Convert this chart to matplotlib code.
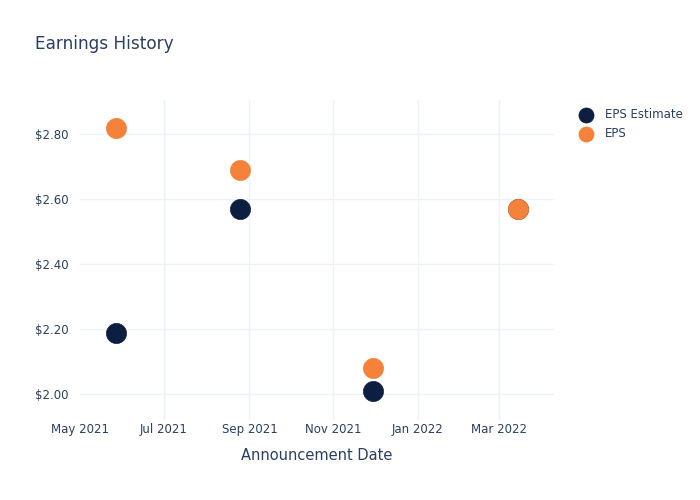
import matplotlib.pyplot as plt
import matplotlib.dates as mdates
import numpy as np
import pandas as pd

# Data
dates = pd.to_datetime(["2021-05-27", "2021-08-25", "2021-11-30", "2022-03-15"])
eps_estimate = [2.19, 2.57, 2.01, 2.57]
eps_actual = [2.82, 2.69, 2.08, 2.57]

tick_dates = pd.to_datetime(["2021-05-01", "2021-07-01", "2021-09-01",
                             "2021-11-01", "2022-01-01", "2022-03-01"])
tick_labels = ["May 2021", "Jul 2021", "Sep 2021", "Nov 2021", "Jan 2022", "Mar 2022"]
y_ticks = [2.0, 2.2, 2.4, 2.6, 2.8]

text_color = "#2a3f5f"
grid_color = "#eef1f7"
navy = "#0c1f40"
orange = "#f5813a"

plt.rcParams['font.family'] = ['DejaVu Sans']

fig = plt.figure(figsize=(7, 5), dpi=100)
ax = fig.add_axes([0.1143, 0.16, 0.677, 0.64])

ax.scatter(dates, eps_estimate, s=210, color=navy, label="EPS Estimate", zorder=3,
           edgecolors=navy, linewidths=0.5)
ax.scatter(dates, eps_actual, s=210, color=orange, label="EPS", zorder=4,
           edgecolors=orange, linewidths=0.5)

ax.set_xlim(pd.Timestamp("2021-05-01"), pd.Timestamp("2022-04-10"))
ax.set_ylim(1.921, 2.9055)

ax.set_xticks(tick_dates)
ax.set_xticklabels(tick_labels)
ax.set_yticks(y_ticks)
ax.set_yticklabels(["$%.2f" % v for v in y_ticks])

ax.tick_params(axis="both", length=0, colors=text_color, labelsize=8.5)
ax.tick_params(axis="x", pad=2)
ax.tick_params(axis="y", pad=8)

ax.grid(True, color=grid_color, linewidth=1, zorder=0)
# no gridline on the left edge
ax.get_xgridlines()[0].set_visible(False)
for spine in ax.spines.values():
    spine.set_visible(False)

ax.set_xlabel("Announcement Date", color=text_color, fontsize=10.5, labelpad=9)

fig.text(0.05, 0.912, "Earnings History", color=text_color, fontsize=12.2,
         ha="left", va="center")

leg = fig.legend(loc="upper left", bbox_to_anchor=(0.805, 0.806), frameon=False,
                 fontsize=8.5, labelcolor=text_color, handletextpad=0.6,
                 labelspacing=0.55, markerscale=0.75)

fig.savefig("out.png", dpi=100)
